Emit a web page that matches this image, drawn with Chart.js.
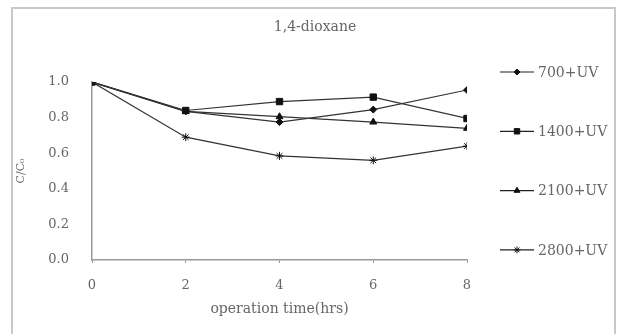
<!DOCTYPE html>
<html>
<head>
<meta charset="utf-8">
<script src="https://cdn.jsdelivr.net/npm/chart.js@4"></script>
<style>
  html, body { margin: 0; padding: 0; background: #fff; }
  #wrap { position: absolute; left: 0; top: 0; width: 619px; height: 334px; }
</style>
</head>
<body>
<div id="wrap"><canvas id="linechart" width="619" height="334"></canvas></div>
<script>
var hours = [0, 2, 4, 6, 8];
var seriesNames = ['700+UV', '1400+UV', '2100+UV', '2800+UV'];
var uv700 = [1.0, 0.835, 0.775, 0.845, 0.955];
var uv1400 = [1.0, 0.84, 0.89, 0.915, 0.795];
var uv2100 = [1.0, 0.835, 0.805, 0.775, 0.74];
var uv2800 = [1.0, 0.69, 0.585, 0.56, 0.64];
var yTicks = [0.0, 0.2, 0.4, 0.6, 0.8, 1.0];

var textColor = '#666';
var serif = '"DejaVu Serif", "Liberation Serif", serif';

function toPoints(vals) {
    return hours.map(function (h, i) { return { x: h, y: vals[i] }; });
}

var markers = [
    { style: 'rectRot', radius: 3.5 },
    { style: 'rect', radius: 4.5 },
    { style: 'triangle', radius: 4 },
    { style: 'star', radius: 4 }
];

// frame, title and side legend
var decor = {
    id: 'decor',
    beforeDraw: function (chart) {
        var ctx = chart.ctx;
        ctx.save();
        ctx.fillStyle = '#fff';
        ctx.fillRect(0, 0, chart.width, chart.height);
        ctx.strokeStyle = '#c8c8c8';
        ctx.lineWidth = 2;
        ctx.strokeRect(12, 8, 603, 330);
        ctx.restore();
    },
    afterDraw: function (chart) {
        var ctx = chart.ctx;
        ctx.save();
        ctx.fillStyle = textColor;
        ctx.font = '14px ' + serif;
        ctx.textAlign = 'center';
        ctx.textBaseline = 'middle';
        ctx.fillText('1,4-dioxane', 315, 27);

        ctx.textAlign = 'left';
        chart.data.datasets.forEach(function (ds, i) {
            var y = 72 + i * 59.3;
            ctx.strokeStyle = '#222';
            ctx.lineWidth = 1.2;
            ctx.beginPath();
            ctx.moveTo(500, y);
            ctx.lineTo(534, y);
            ctx.stroke();
            ctx.fillStyle = '#111';
            ctx.strokeStyle = '#111';
            ctx.lineWidth = 1;
            Chart.helpers.drawPoint(ctx, {
                pointStyle: ds.pointStyle,
                radius: ds.pointRadius * 0.85,
                rotation: 0,
                borderWidth: 1
            }, 517, y);
            ctx.fillStyle = textColor;
            ctx.font = '14px ' + serif;
            ctx.fillText(ds.label, 538, y + 1);
        });
        ctx.restore();
    }
};

var datasets = [uv700, uv1400, uv2100, uv2800].map(function (vals, i) {
    return {
        label: seriesNames[i],
        data: toPoints(vals),
        borderColor: '#333',
        backgroundColor: '#111',
        pointBorderColor: '#111',
        borderWidth: 1.2,
        pointStyle: markers[i].style,
        pointRadius: markers[i].radius,
        pointBorderWidth: 1,
        tension: 0
    };
});

var myChart = new Chart(document.getElementById('linechart'), {
    type: 'line',
    data: { datasets: datasets },
    plugins: [decor],
    options: {
        responsive: false,
        animation: false,
        layout: { padding: { left: 12, top: 82, right: 152, bottom: 16 } },
        plugins: {
            legend: { display: false },
            title: { display: false },
            tooltip: { enabled: false }
        },
        scales: {
            x: {
                type: 'linear',
                min: 0,
                max: 8,
                afterBuildTicks: function (scale) {
                    scale.ticks = hours.map(function (h) { return { value: h }; });
                },
                grid: { display: true, drawOnChartArea: false, color: '#999', tickLength: 3 },
                border: { color: '#999', width: 1.5 },
                ticks: { color: textColor, font: { family: serif, size: 13 }, padding: 15 },
                title: {
                    display: true,
                    text: 'operation time(hrs)',
                    color: textColor,
                    font: { family: serif, size: 14 },
                    padding: { top: 4, bottom: 0 }
                },
                afterFit: function (scale) { scale.height = 58; }
            },
            y: {
                min: 0,
                max: 1,
                afterBuildTicks: function (scale) {
                    scale.ticks = yTicks.map(function (v) { return { value: v }; });
                },
                grid: { display: false },
                border: { color: '#999', width: 1.5 },
                ticks: {
                    color: textColor,
                    font: { family: serif, size: 13 },
                    padding: 15,
                    callback: function (v) { return Number(v).toFixed(1); }
                },
                title: {
                    display: true,
                    text: 'C/C₀',
                    color: textColor,
                    font: { family: serif, size: 11 },
                    padding: { top: 3, bottom: 0 }
                },
                afterFit: function (scale) { scale.width = 80; }
            }
        }
    }
});
</script>
</body>
</html>
